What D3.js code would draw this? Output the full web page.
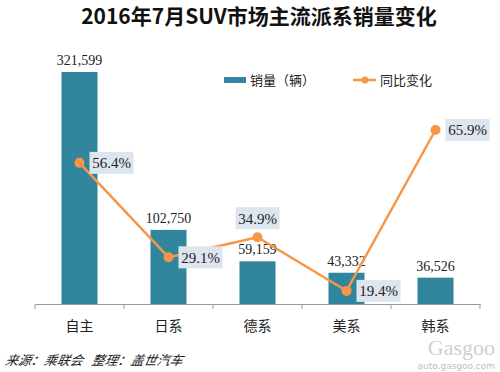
<!DOCTYPE html>
<html>
<head>
<meta charset="utf-8">
<script src="https://cdn.jsdelivr.net/npm/d3@7"></script>
<style>
  body { margin: 0; background: #fff; }
</style>
</head>
<body>
<script>
// données
const categories = ["自主", "日系", "德系", "美系", "韩系"];
const sales = [321599, 102750, 59159, 43332, 36526];
const growth = [56.4, 29.1, 34.9, 19.4, 65.9];
// position du label % : droite / haut
const growthLabelPos = ["right", "right", "top", "right", "right"];

const W = 500, H = 372;
const cjk = "'Noto Sans CJK SC', 'Noto Sans', sans-serif";
const serif = "'Liberation Serif', 'DejaVu Serif', serif";
const barColor = "#31859c";
const lineColor = "#f79646";

const svg = d3.select("body")
        .append("svg")
        .attr("width", W)
        .attr("height", H)

// titre
svg.append("text")
        .attr("x", 259)
        .attr("y", 24)
        .attr("text-anchor", "middle")
        .style("font-family", cjk)
        .style("font-weight", "bold")
        .style("font-size", "21px")
        .attr("fill", "#111")
        .text("2016年7月SUV市场主流派系销量变化")

// échelles
const x = d3.scaleBand()
        .domain(categories)
        .range([35, 480])
        .paddingInner(0)
        .paddingOuter(0)

const y = d3.scaleLinear()
        .domain([0, 350000])
        .range([304, 51.5])

const y2 = d3.scaleLinear()
        .domain([0, 70])
        .range([358, 115.8])

const barW = 36;

// barres
svg.selectAll("rect.bar")
        .data(sales)
        .enter()
        .append("rect")
                .attr("class", "bar")
                .attr("x", (d, i) => x(categories[i]) + x.bandwidth() / 2 - barW / 2)
                .attr("y", d => y(d))
                .attr("width", barW)
                .attr("height", d => y(0) - y(d))
                .attr("fill", barColor)

// axe des x
const xAxis = svg.append("g")
        .attr("transform", "translate(0,304)")
        .call(d3.axisBottom(x).tickSize(0).tickFormat(""))
xAxis.select(".domain").attr("stroke", "#999")
xAxis.selectAll(".tick").remove()

const edges = categories.map(c => x(c)).concat([x.range()[1]]);
svg.selectAll("line.tk")
        .data(edges)
        .enter()
        .append("line")
                .attr("x1", d => d).attr("x2", d => d)
                .attr("y1", 304).attr("y2", 309)
                .attr("stroke", "#999")

svg.selectAll("text.cat")
        .data(categories)
        .enter()
        .append("text")
                .attr("x", d => x(d) + x.bandwidth() / 2)
                .attr("y", 331)
                .attr("text-anchor", "middle")
                .style("font-family", cjk)
                .style("font-size", "14px")
                .attr("fill", "#222")
                .text(d => d)

// valeurs des barres
svg.selectAll("text.val")
        .data(sales)
        .enter()
        .append("text")
                .attr("x", (d, i) => x(categories[i]) + x.bandwidth() / 2)
                .attr("y", d => y(d) - 7)
                .attr("text-anchor", "middle")
                .style("font-family", serif)
                .style("font-size", "14px")
                .attr("fill", "#222")
                .text(d => d3.format(",")(d))

// ligne
const line = d3.line()
        .x((d, i) => x(categories[i]) + x.bandwidth() / 2)
        .y(d => y2(d))

svg.append("path")
        .datum(growth)
        .attr("d", line)
        .attr("fill", "none")
        .attr("stroke", lineColor)
        .attr("stroke-width", 2.5)

svg.selectAll("circle.pt")
        .data(growth)
        .enter()
        .append("circle")
                .attr("cx", (d, i) => x(categories[i]) + x.bandwidth() / 2)
                .attr("cy", d => y2(d))
                .attr("r", 5)
                .attr("fill", lineColor)

// labels %
const lab = svg.selectAll("g.pct")
        .data(growth)
        .enter()
        .append("g")
                .attr("transform", (d, i) => {
                        const cx = x(categories[i]) + x.bandwidth() / 2;
                        const cy = y2(d);
                        if (growthLabelPos[i] === "top") return `translate(${cx - 22},${cy - 30})`;
                        return `translate(${cx + 10},${cy - 11})`;
                })

lab.append("rect")
        .attr("width", 44)
        .attr("height", 22)
        .attr("fill", "#dde5ef")

lab.append("text")
        .attr("x", 22)
        .attr("y", 16.5)
        .attr("text-anchor", "middle")
        .style("font-family", serif)
        .style("font-size", "15px")
        .attr("fill", "#222")
        .text(d => d.toFixed(1) + "%")

// légende
svg.append("rect")
        .attr("x", 224).attr("y", 77)
        .attr("width", 22).attr("height", 6)
        .attr("fill", barColor)
svg.append("text")
        .attr("x", 250).attr("y", 85)
        .style("font-family", cjk)
        .style("font-size", "13px")
        .attr("fill", "#222")
        .text("销量（辆）")

svg.append("line")
        .attr("x1", 353).attr("x2", 376)
        .attr("y1", 80).attr("y2", 80)
        .attr("stroke", lineColor)
        .attr("stroke-width", 2.5)
svg.append("circle")
        .attr("cx", 365).attr("cy", 80).attr("r", 3.5)
        .attr("fill", lineColor)
svg.append("text")
        .attr("x", 380).attr("y", 85)
        .style("font-family", cjk)
        .style("font-size", "13px")
        .attr("fill", "#222")
        .text("同比变化")

// source
svg.append("text")
        .attr("x", 5).attr("y", 365)
        .style("font-family", cjk)
        .style("font-style", "italic")
        .style("font-size", "13px")
        .attr("fill", "#222")
        .attr("transform", "skewX(-12) translate(77,0)")
        .text("来源：乘联会\u00a0\u00a0\u00a0整理：盖世汽车")

// filigrane
svg.append("text")
        .attr("x", 495).attr("y", 355)
        .attr("text-anchor", "end")
        .style("font-family", "'Liberation Serif', serif")
        .style("font-size", "22px")
        .attr("fill", "#cfcfcf")
        .text("Gasgoo")
svg.append("text")
        .attr("x", 495).attr("y", 369)
        .attr("text-anchor", "end")
        .style("font-family", "'DejaVu Sans', sans-serif")
        .style("font-size", "9px")
        .attr("fill", "#bdbdbd")
        .text("auto.gasgoo.com")
</script>
</body>
</html>
